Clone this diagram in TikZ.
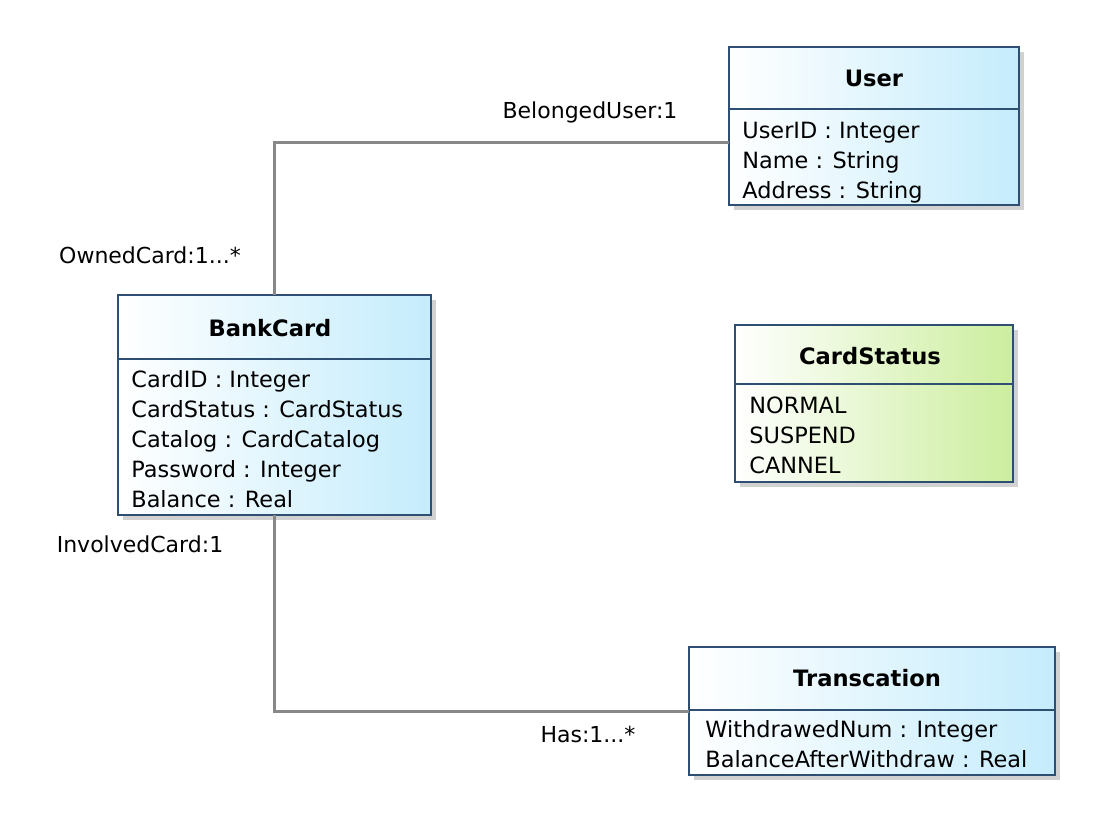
\documentclass[tikz,border=0pt]{standalone}
\usepackage{fontspec}
\setmainfont{DejaVu Sans}
\usetikzlibrary{shadows}
\definecolor{boxedge}{RGB}{46,78,114}
\definecolor{boxcyan}{RGB}{197,236,252}
\definecolor{boxgreen}{RGB}{204,238,158}
\definecolor{linkgray}{RGB}{136,136,136}
\tikzstyle{classbox} = [rectangle, draw=boxedge, line width=1.4pt, inner sep=0pt, outer sep=0pt, left color=white, right color=boxcyan, drop shadow={shadow xshift=2.5pt, shadow yshift=-2.5pt, fill=black!18, opacity=1}]
\tikzstyle{enumbox} = [classbox, right color=boxgreen]
\tikzstyle{divider} = [draw=boxedge, line width=1.4pt]
\tikzstyle{title} = [font=\bfseries\fontsize{11.3}{14}\selectfont, inner sep=0pt, anchor=base]
\tikzstyle{attr} = [font=\fontsize{11.2}{15}\selectfont, inner sep=0pt, anchor=base west]
\tikzstyle{role} = [font=\fontsize{11}{14}\selectfont, inner sep=0pt, anchor=base]
\tikzstyle{line} = [draw=linkgray, line width=1.5pt]

\begin{document}
\begin{tikzpicture}[x=0.5pt, y=-0.5pt]
			\useasboundingbox (0,0) rectangle (1102,826);

			% classes
			\node [classbox, minimum width=145pt, minimum height=79pt] (user) at (874,126) {};
			\node [classbox, minimum width=156.5pt, minimum height=110pt] (bankcard) at (274.5,405) {};
			\node [enumbox, minimum width=139pt, minimum height=78.5pt] (cardstatus) at (874,403.5) {};
			\node [classbox, minimum width=183pt, minimum height=64pt] (transcation) at (872,711) {};

			\path [divider] (729,109) -- (1019,109);
			\path [divider] (118,359) -- (431,359);
			\path [divider] (735,384) -- (1013,384);
			\path [divider] (689,710) -- (1055,710);

			\node [title] (user-title) at (874,86) {User};
			\node [title] (bankcard-title) at (270,336) {BankCard};
			\node [title] (cardstatus-title) at (870,364) {CardStatus};
			\node [title] (transcation-title) at (867,686) {Transcation};

			% attributes
			\foreach \t [count=\i] in {UserID : Integer, Name : String, Address : String}
				\node [attr] (user-\i) at (742, 108+30*\i) {\t};
			\foreach \t [count=\i] in {CardID : Integer, CardStatus : CardStatus, Catalog : CardCatalog, Password : Integer, Balance : Real}
				\node [attr] (bankcard-\i) at (131, 357+30*\i) {\t};
			\foreach \t [count=\i] in {NORMAL, SUSPEND, CANNEL}
				\node [attr] (cardstatus-\i) at (749, 383+30*\i) {\t};
			\foreach \t [count=\i] in {WithdrawedNum : Integer, BalanceAfterWithdraw : Real}
				\node [attr] (transcation-\i) at (705, 707+30*\i) {\t};

			% associations
			\path [line] ([yshift=-8pt]user.west) -| (bankcard.north);
			\path [line] (bankcard.south) |- (transcation.west);

			\node [role] (belonged) at (590,118) {BelongedUser:1};
			\node [role] (owned) at (150,263) {OwnedCard:1...*};
			\node [role] (involved) at (140,552) {InvolvedCard:1};
			\node [role] (has) at (588,742) {Has:1...*};
		\end{tikzpicture}
\end{document}
